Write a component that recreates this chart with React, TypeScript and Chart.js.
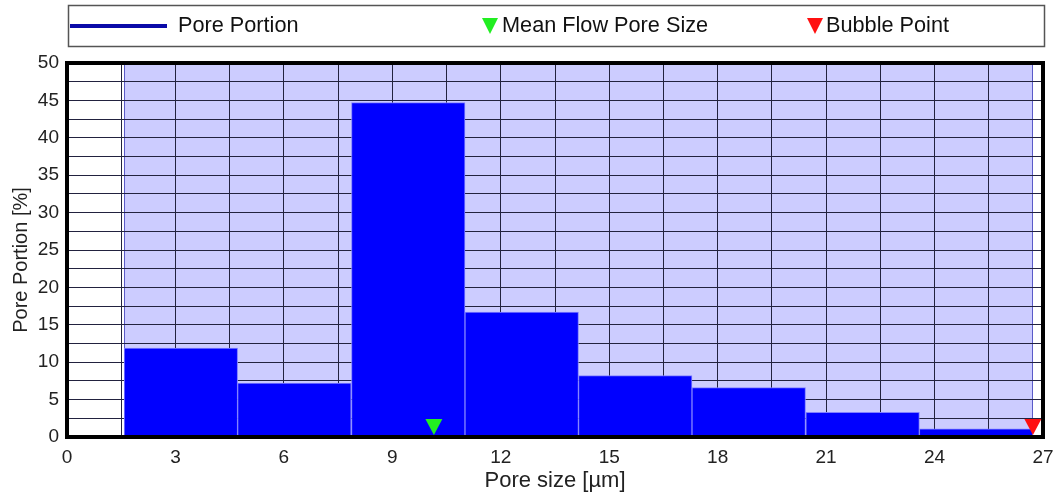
import React, { useEffect, useRef } from 'react';
import { Chart, registerables } from 'chart.js';

Chart.register(...registerables);

// ---- data ----
const binCenters = [3.15, 6.29, 9.44, 12.58, 15.72, 18.86, 22.01, 25.15];
const porePortion = [11.9, 7.2, 44.7, 16.7, 8.2, 6.6, 3.3, 1.1];
const measuredRange = [1.58, 26.72];
const meanFlowPoreSize = 10.15;
const bubblePoint = 26.72;
const xTickLabels = [0, 3, 6, 9, 12, 15, 18, 21, 24, 27];
const yTickLabels = [0, 5, 10, 15, 20, 25, 30, 35, 40, 45, 50];
const legendLabels = ['Pore Portion', 'Mean Flow Pore Size', 'Bubble Point'];
const xTitle = 'Pore size [µm]';
const yTitle = 'Pore Portion [%]';

const FONT = "'Liberation Sans', Arial, Helvetica, sans-serif";
const GRID = '#22223f';

function triangle(ctx: CanvasRenderingContext2D, cx: number, tipY: number, w: number, h: number, color: string) {
  ctx.beginPath();
  ctx.moveTo(cx - w / 2, tipY - h);
  ctx.lineTo(cx + w / 2, tipY - h);
  ctx.lineTo(cx, tipY);
  ctx.closePath();
  ctx.fillStyle = color;
  ctx.fill();
}

const shadePlugin = {
  id: 'shade',
  beforeDraw(chart: any) {
    const { ctx, chartArea } = chart;
    const x = chart.scales.xAxis;
    const x0 = x.getPixelForValue(measuredRange[0]);
    const x1 = x.getPixelForValue(measuredRange[1]);
    ctx.save();
    ctx.fillStyle = '#ffffff';
    ctx.fillRect(0, 0, chart.width, chart.height);
    ctx.fillStyle = '#ccccff';
    ctx.fillRect(x0, chartArea.top, x1 - x0, chartArea.bottom - chartArea.top);
    ctx.strokeStyle = '#5a5ac8';
    ctx.lineWidth = 1;
    ctx.beginPath();
    ctx.moveTo(Math.round(x0) + 0.5, chartArea.top);
    ctx.lineTo(Math.round(x0) + 0.5, chartArea.bottom);
    ctx.moveTo(Math.round(x1) - 0.5, chartArea.top);
    ctx.lineTo(Math.round(x1) - 0.5, chartArea.bottom);
    ctx.stroke();
    ctx.restore();
  },
};

const frameAndMarkersPlugin = {
  id: 'frameMarkers',
  afterDatasetsDraw(chart: any) {
    const { ctx, chartArea } = chart;
    const x = chart.scales.xAxis;
    const y = chart.scales.y;
    ctx.save();
    ctx.strokeStyle = '#000000';
    ctx.lineWidth = 4;
    ctx.strokeRect(chartArea.left, chartArea.top, chartArea.right - chartArea.left, chartArea.bottom - chartArea.top);
    const base = y.getPixelForValue(0) - 2;
    triangle(ctx, x.getPixelForValue(meanFlowPoreSize), base, 17, 16, '#22ee22');
    triangle(ctx, x.getPixelForValue(bubblePoint), base, 17, 16, '#ff1010');
    ctx.restore();
  },
  afterDraw(chart: any) {
    const { ctx, chartArea } = chart;
    ctx.save();
    // y axis title
    ctx.fillStyle = '#222222';
    ctx.font = `20px ${FONT}`;
    ctx.textAlign = 'center';
    ctx.textBaseline = 'middle';
    ctx.translate(21, (chartArea.top + chartArea.bottom) / 2 + 10);
    ctx.rotate(-Math.PI / 2);
    ctx.fillText(yTitle, 0, 0);
    ctx.restore();

    ctx.save();
    ctx.strokeStyle = '#555555';
    ctx.lineWidth = 1.5;
    ctx.strokeRect(68.5, 5.5, 976, 41);
    ctx.strokeStyle = '#0a0aa8';
    ctx.lineWidth = 4;
    ctx.beginPath();
    ctx.moveTo(70, 26);
    ctx.lineTo(167, 26);
    ctx.stroke();
    ctx.fillStyle = '#111111';
    ctx.font = `21.7px ${FONT}`;
    ctx.textBaseline = 'middle';
    ctx.textAlign = 'left';
    ctx.fillText(legendLabels[0], 178, 26);
    triangle(ctx, 490, 34, 16, 16, '#22ee22');
    ctx.fillStyle = '#111111';
    ctx.fillText(legendLabels[1], 502, 26);
    triangle(ctx, 815, 34, 16, 16, '#ff1010');
    ctx.fillStyle = '#111111';
    ctx.fillText(legendLabels[2], 826, 26);
    ctx.restore();
  },
};

export default function App() {
  const ref = useRef<HTMLCanvasElement | null>(null);
  useEffect(() => {
    document.body.style.margin = '0';
    if (!ref.current) return;
    const chart = new Chart(ref.current, {
      type: 'bar',
      data: {
        datasets: [
          {
            label: legendLabels[0],
            data: binCenters.map((c, i) => ({ x: c, y: porePortion[i] })),
            backgroundColor: '#0000ff',
            borderColor: '#8080ff',
            borderWidth: 1,
            barPercentage: 1,
            categoryPercentage: 1,
            xAxisID: 'x',
            yAxisID: 'y',
          },
        ],
      },
      options: {
        animation: false,
        responsive: true,
        maintainAspectRatio: false,
        layout: { padding: { top: 63, right: 15, left: 0, bottom: 0 } },
        plugins: { legend: { display: false }, tooltip: { enabled: false } },
        scales: {
          x: {
            type: 'linear',
            display: false,
            min: 0,
            max: 27,
            offset: false,
            ticks: { stepSize: 27 },
          },
          xAxis: {
            type: 'linear',
            position: 'bottom',
            min: 0,
            max: 27,
            offset: false,
            afterFit: (s: any) => { s.height = 60; s.paddingLeft = 0; s.paddingRight = 0; },
            border: { display: false },
            grid: { color: GRID, lineWidth: 1, drawTicks: false, offset: false },
            ticks: {
              stepSize: 1.5,
              autoSkip: false,
              maxRotation: 0,
              padding: 9,
              color: '#222222',
              font: { family: FONT, size: 19 },
              callback: (v: any) => (xTickLabels.includes(Number(v)) ? String(v) : ''),
            },
            title: {
              display: true,
              text: xTitle,
              color: '#222222',
              font: { family: FONT, size: 22 },
              padding: { top: 0, bottom: 3 },
            },
          },
          y: {
            type: 'linear',
            min: 0,
            max: 50,
            afterFit: (s: any) => { s.width = 67; },
            border: { display: false },
            grid: { color: GRID, lineWidth: 1, drawTicks: false, offset: false },
            ticks: {
              stepSize: 2.5,
              autoSkip: false,
              padding: 8,
              color: '#222222',
              font: { family: FONT, size: 19 },
              callback: (v: any) => (yTickLabels.includes(Number(v)) ? String(v) : ''),
            },
          },
        },
      },
      plugins: [shadePlugin, frameAndMarkersPlugin],
    } as any);
    return () => chart.destroy();
  }, []);
  return (
    <div style={{ position: 'relative', width: 1058, height: 497 }}>
      <canvas ref={ref} />
    </div>
  );
}
